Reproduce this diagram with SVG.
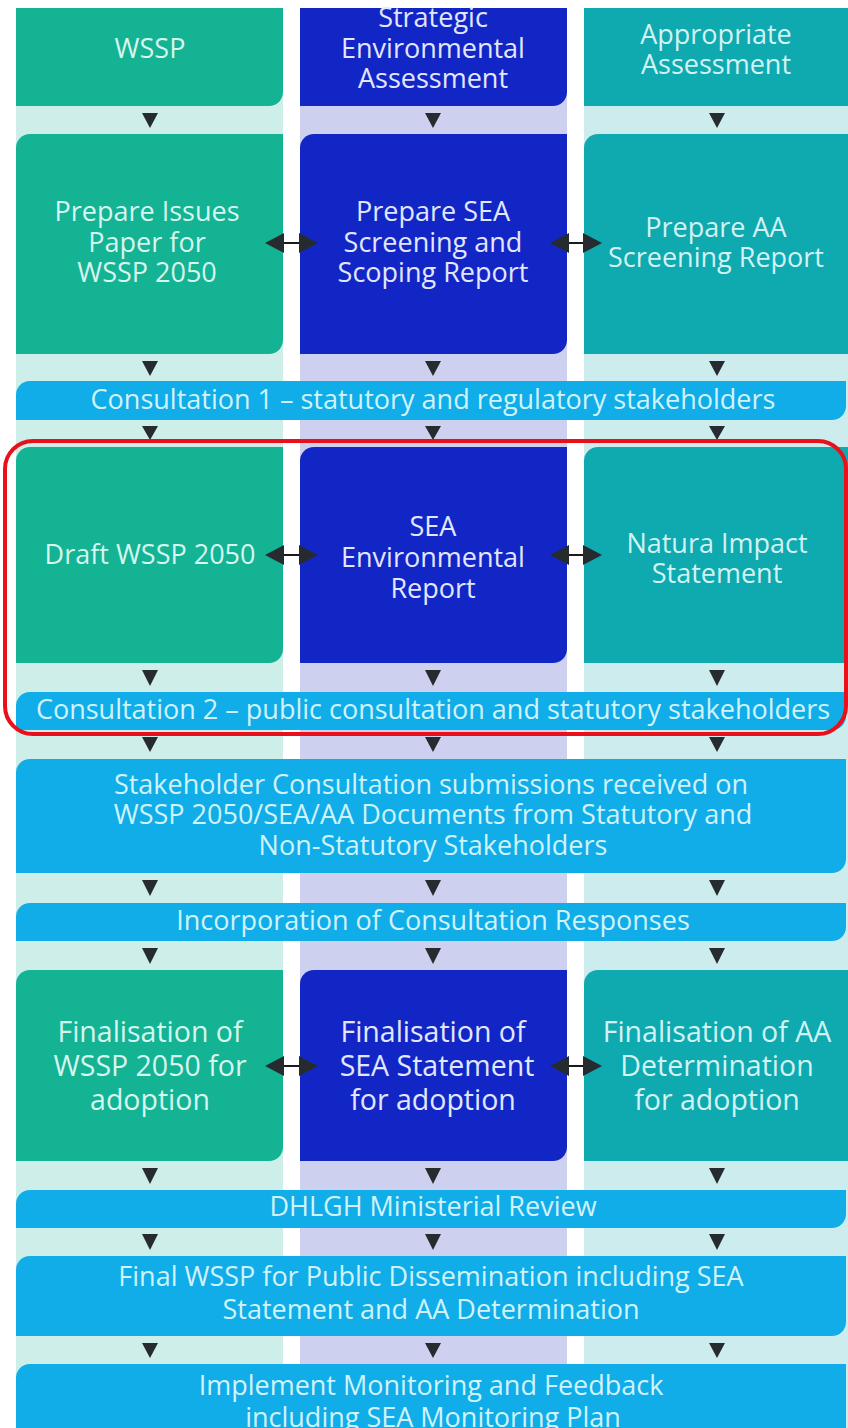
<svg xmlns="http://www.w3.org/2000/svg" width="848" height="1428" viewBox="0 0 848 1428">
<defs>
<style>
.t{font-family:"Open Sans","Noto Sans","Liberation Sans",sans-serif;font-size:27px;text-anchor:middle}
.big{font-size:28.5px}
.tl{fill:#d6f6ee}
.tm{fill:#e2e6ff}
.tr{fill:#d2f3f3}
.tb{fill:#d0f3fb}
.cl{fill:#13b394}
.cm{fill:#1226c6}
.cr{fill:#0fa9b0}
.bar{fill:#10ade8}
.da{fill:#262b30}
.dl{stroke:#1a1a1a;stroke-width:2}
</style>
</defs>
<rect width="848" height="1428" fill="#ffffff"/>
<g id="columns">
<rect x="16" y="8" width="267" height="1420" fill="#cdeee9"/>
<rect x="300" y="8" width="267" height="1420" fill="#cdd0ee"/>
<rect x="584" y="8" width="264" height="1420" fill="#cdeced"/>
</g>
<g id="r1-wssp"><path class="cl" d="M16,8 H283 V92 A14,14 0 0 1 269,106 H16 Z"/><text class="t tl" x="150" y="58">WSSP</text></g>
<g id="r1-sea"><path class="cm" d="M300,8 H567 V92 A14,14 0 0 1 553,106 H300 Z"/><text class="t tm" x="433" y="27">Strategic</text><text class="t tm" x="433" y="58">Environmental</text><text class="t tm" x="433" y="88">Assessment</text></g>
<g id="r1-aa"><path class="cr" d="M584,8 H848 V106 H584 Z"/><text class="t tr" x="716" y="44">Appropriate</text><text class="t tr" x="716" y="74">Assessment</text></g>

<g id="r2-wssp"><path class="cl" d="M30,134 H283 V340 A14,14 0 0 1 269,354 H16 V148 A14,14 0 0 1 30,134 Z"/><text class="t tl" x="147" y="221">Prepare Issues</text><text class="t tl" x="147" y="252">Paper for</text><text class="t tl" x="147" y="282">WSSP 2050</text></g>
<g id="r2-sea"><path class="cm" d="M314,134 H567 V340 A14,14 0 0 1 553,354 H300 V148 A14,14 0 0 1 314,134 Z"/><text class="t tm" x="433" y="221">Prepare SEA</text><text class="t tm" x="433" y="252">Screening and</text><text class="t tm" x="433" y="282">Scoping Report</text></g>
<g id="r2-aa"><path class="cr" d="M598,134 H848 V354 H584 V148 A14,14 0 0 1 598,134 Z"/><text class="t tr" x="716" y="237">Prepare AA</text><text class="t tr" x="716" y="267">Screening Report</text></g>

<g id="consult1"><path class="bar" d="M30,381 H846 V406 A14,14 0 0 1 832,420 H16 V395 A14,14 0 0 1 30,381 Z"/><text class="t tb" x="433" y="409">Consultation 1 – statutory and regulatory stakeholders</text></g>

<g id="r3-wssp"><path class="cl" d="M30,447 H283 V649 A14,14 0 0 1 269,663 H16 V461 A14,14 0 0 1 30,447 Z"/><text class="t tl" x="150" y="564">Draft WSSP 2050</text></g>
<g id="r3-sea"><path class="cm" d="M314,447 H567 V649 A14,14 0 0 1 553,663 H300 V461 A14,14 0 0 1 314,447 Z"/><text class="t tm" x="433" y="536">SEA</text><text class="t tm" x="433" y="567">Environmental</text><text class="t tm" x="433" y="598">Report</text></g>
<g id="r3-aa"><path class="cr" d="M598,447 H848 V663 H584 V461 A14,14 0 0 1 598,447 Z"/><text class="t tr" x="717" y="553">Natura Impact</text><text class="t tr" x="717" y="583">Statement</text></g>

<g id="consult2"><path class="bar" d="M30,692 H846 V716 A14,14 0 0 1 832,730 H16 V706 A14,14 0 0 1 30,692 Z"/><text class="t tb" x="433" y="719">Consultation 2 – public consultation and statutory stakeholders</text></g>

<g id="submissions"><path class="bar" d="M30,759 H846 V859 A14,14 0 0 1 832,873 H16 V773 A14,14 0 0 1 30,759 Z"/><text class="t tb" x="431" y="794">Stakeholder Consultation submissions received on</text><text class="t tb" x="433" y="824">WSSP 2050/SEA/AA Documents from Statutory and</text><text class="t tb" x="433" y="855">Non-Statutory Stakeholders</text></g>

<g id="incorporation"><path class="bar" d="M30,903 H846 V927 A14,14 0 0 1 832,941 H16 V917 A14,14 0 0 1 30,903 Z"/><text class="t tb" x="433" y="930">Incorporation of Consultation Responses</text></g>

<g id="r4-wssp"><path class="cl" d="M30,970 H283 V1147 A14,14 0 0 1 269,1161 H16 V984 A14,14 0 0 1 30,970 Z"/><text class="t big tl" x="150" y="1042">Finalisation of</text><text class="t big tl" x="150" y="1076">WSSP 2050 for</text><text class="t big tl" x="150" y="1110">adoption</text></g>
<g id="r4-sea"><path class="cm" d="M314,970 H567 V1147 A14,14 0 0 1 553,1161 H300 V984 A14,14 0 0 1 314,970 Z"/><text class="t big tm" x="433" y="1042">Finalisation of</text><text class="t big tm" x="437" y="1076">SEA Statement</text><text class="t big tm" x="433" y="1110">for adoption</text></g>
<g id="r4-aa"><path class="cr" d="M598,970 H848 V1161 H584 V984 A14,14 0 0 1 598,970 Z"/><text class="t big tr" x="717" y="1042">Finalisation of AA</text><text class="t big tr" x="717" y="1076">Determination</text><text class="t big tr" x="717" y="1110">for adoption</text></g>

<g id="review"><path class="bar" d="M30,1190 H846 V1214 A14,14 0 0 1 832,1228 H16 V1204 A14,14 0 0 1 30,1190 Z"/><text class="t tb" x="433" y="1216">DHLGH Ministerial Review</text></g>

<g id="final"><path class="bar" d="M30,1256 H846 V1322 A14,14 0 0 1 832,1336 H16 V1270 A14,14 0 0 1 30,1256 Z"/><text class="t tb" x="431" y="1286">Final WSSP for Public Dissemination including SEA</text><text class="t tb" x="431" y="1319">Statement and AA Determination</text></g>

<g id="implement"><path class="bar" d="M30,1364 H846 V1440 H16 V1378 A14,14 0 0 1 30,1364 Z"/><text class="t tb" x="431" y="1395">Implement Monitoring and Feedback</text><text class="t tb" x="433" y="1427">including SEA Monitoring Plan</text></g>

<g id="connectors">
<g id="down-arrows">
<path class="da" d="M142,113 H158 L150,128 Z M425,113 H441 L433,128 Z M709,113 H725 L717,128 Z"/>
<path class="da" d="M142,361 H158 L150,376 Z M425,361 H441 L433,376 Z M709,361 H725 L717,376 Z"/>
<path class="da" d="M142,426 H158 L150,440 Z M425,426 H441 L433,440 Z M709,426 H725 L717,440 Z"/>
<path class="da" d="M142,670 H158 L150,686 Z M425,670 H441 L433,686 Z M709,670 H725 L717,686 Z"/>
<path class="da" d="M142,737 H158 L150,752 Z M425,737 H441 L433,752 Z M709,737 H725 L717,752 Z"/>
<path class="da" d="M142,880 H158 L150,896 Z M425,880 H441 L433,896 Z M709,880 H725 L717,896 Z"/>
<path class="da" d="M142,948 H158 L150,964 Z M425,948 H441 L433,964 Z M709,948 H725 L717,964 Z"/>
<path class="da" d="M142,1168 H158 L150,1184 Z M425,1168 H441 L433,1184 Z M709,1168 H725 L717,1184 Z"/>
<path class="da" d="M142,1234 H158 L150,1250 Z M425,1234 H441 L433,1250 Z M709,1234 H725 L717,1250 Z"/>
<path class="da" d="M142,1343 H158 L150,1358 Z M425,1343 H441 L433,1358 Z M709,1343 H725 L717,1358 Z"/>
</g>
<g id="double-arrows" fill="#262b30">
<line class="dl" x1="280" y1="243" x2="303" y2="243"/><path d="M265,243 L284,233 L284,253 Z M318,243 L299,233 L299,253 Z"/>
<line class="dl" x1="565" y1="243" x2="587" y2="243"/><path d="M550,243 L569,233 L569,253 Z M602,243 L583,233 L583,253 Z"/>
<line class="dl" x1="280" y1="555" x2="303" y2="555"/><path d="M265,555 L284,545 L284,565 Z M318,555 L299,545 L299,565 Z"/>
<line class="dl" x1="565" y1="555" x2="587" y2="555"/><path d="M550,555 L569,545 L569,565 Z M602,555 L583,545 L583,565 Z"/>
<line class="dl" x1="280" y1="1066" x2="303" y2="1066"/><path d="M265,1066 L284,1056 L284,1076 Z M318,1066 L299,1056 L299,1076 Z"/>
<line class="dl" x1="565" y1="1066" x2="587" y2="1066"/><path d="M550,1066 L569,1056 L569,1076 Z M602,1066 L583,1056 L583,1076 Z"/>
</g>
</g>
<g id="highlight"><rect x="5" y="441" width="841" height="293" rx="28" fill="none" stroke="#e8101a" stroke-width="4"/></g>
</svg>
